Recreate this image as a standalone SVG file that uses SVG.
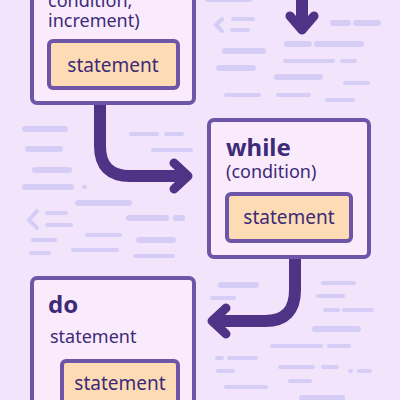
<svg xmlns="http://www.w3.org/2000/svg" width="400" height="400" viewBox="0 0 400 400">
<defs>
<style>
.bg{fill:#f2e4fb}
.d{stroke:#d5cdf6;stroke-width:4;stroke-linecap:round;fill:none}
.d2{stroke:#d5cdf6;stroke-width:6;stroke-linecap:round;fill:none}
.box{fill:#f9ebfc;stroke:#6d55a8;stroke-width:4}
.inner{fill:#fddcb5;stroke:#6d55a8;stroke-width:4}
.t{font-family:"Noto Sans","Open Sans",sans-serif;fill:#3d2a78}
.kw{font-weight:bold;font-size:24px}
.sm{font-size:18px}
.st{font-size:19px;text-anchor:middle}
.conn{stroke:#4e3386;stroke-width:12;fill:none;stroke-linecap:butt}
.head{stroke:#4e3386;stroke-width:9;fill:none;stroke-linecap:round;stroke-linejoin:round}
</style>
</defs>
<rect class="bg" x="0" y="0" width="400" height="400"/>
<g id="background-dashes">
<path class="d" d="M207 0H250"/>
<path class="d" d="M222 19L216 25L222 31"/>
<path class="d" d="M233 19H253M232 30H248"/>
<path class="d2" d="M333 23H348M356 23H378"/>
<path class="d2" d="M287 44H309M317 44H361"/>
<path class="d2" d="M225 51H263"/>
<path class="d" d="M285 61H333M342 61H355"/>
<path class="d2" d="M219 68H253"/>
<path class="d2" d="M277 77H320"/>
<path class="d" d="M345 83H368"/>
<path class="d" d="M226 95H259M278 95H309"/>
<path class="d" d="M327 100H353"/>
<path class="d2" d="M25 129H65"/>
<path class="d" d="M131 134H157M166 134H182"/>
<path class="d2" d="M28 149H60"/>
<path class="d" d="M153 150H191"/>
<path class="d2" d="M35 170H69"/>
<path class="d2" d="M25 187H71"/>
<path class="d" d="M84 187H85"/>
<path class="d2" d="M78 203H129"/>
<path class="d" d="M37 211L29 220L37 228"/>
<path class="d" d="M47 213H66M47 225H71"/>
<path class="d2" d="M129 218H166M176 218H182"/>
<path class="d" d="M87 235H120"/>
<path class="d" d="M33 240H55"/>
<path class="d2" d="M139 240H173"/>
<path class="d" d="M73 250H117"/>
<path class="d" d="M31 253H49"/>
<path class="d" d="M135 256H173"/>
<path class="d2" d="M221 285H256"/>
<path class="d" d="M212 298H234"/>
<path class="d" d="M323 283H354"/>
<path class="d" d="M318 296H343"/>
<path class="d" d="M325 310H338M344 310H372"/>
<path class="d2" d="M315 329H358"/>
<path class="d" d="M272 346H321M329 346H349"/>
<path class="d" d="M217 358H222M229 358H256"/>
<path class="d" d="M280 367H313M323 367H337"/>
<path class="d" d="M350 371H351M359 371H370"/>
<path class="d" d="M218 371H233"/>
<path class="d" d="M290 381H310"/>
<path class="d" d="M226 387H266"/>
<path class="d2" d="M302 398H342"/>
</g>
<g id="connectors">
<path class="conn" d="M302 0V28"/>
<path class="head" d="M290 16L302 30L314 16"/>
<path class="conn" d="M100 104V146Q100 176 130 176H182"/>
<path class="head" d="M174 163L188 176L174 189"/>
<path class="conn" d="M295 258V290Q295 321 265 321H218"/>
<path class="head" d="M226 308L212 321L226 334"/>
</g>
<g id="node-for">
<rect class="box" x="32" y="-20" width="162" height="123" rx="5"/>
<text class="t sm" x="48" y="7">condition,</text>
<text class="t sm" x="48" y="27">increment)</text>
<rect class="inner" x="49" y="41" width="129" height="47" rx="4"/>
<text class="t st" x="113" y="72">statement</text>
</g>
<g id="node-while">
<rect class="box" x="209" y="120" width="160" height="137" rx="5"/>
<text class="t kw" x="226" y="156">while</text>
<text class="t sm" x="226" y="178">(condition)</text>
<rect class="inner" x="227" y="194" width="124" height="47" rx="4"/>
<text class="t st" x="289" y="224">statement</text>
</g>
<g id="node-do">
<rect class="box" x="32" y="278" width="162" height="140" rx="5"/>
<text class="t kw" x="48" y="313">do</text>
<text class="t sm" x="50" y="343">statement</text>
<rect class="inner" x="62" y="361" width="116" height="60" rx="4"/>
<text class="t st" x="120" y="390">statement</text>
</g>
</svg>
